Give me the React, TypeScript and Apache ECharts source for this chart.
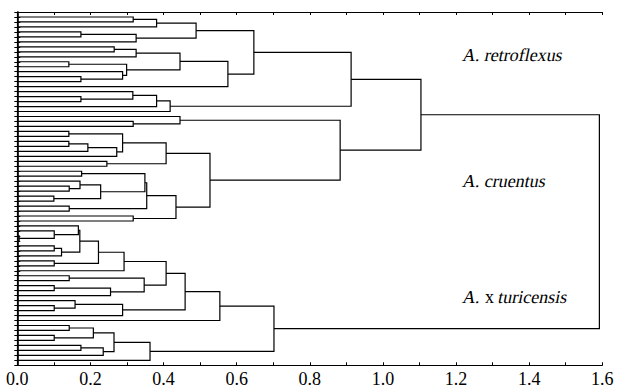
import React, { useEffect, useRef } from "react";
import * as echarts from "echarts";

// A node is a leaf index (its position from top) or [left, right, mergeDistance]
type Node = number | [Node, Node, number];

const leafCount = 70;

const retroflexusTree: Node = [
  [
    [[[0, 1, 0.317], 2, 0.381], [[3, 4, 0.174], 5, 0.325], 0.489],
    [
      [
        [[6, 7, 0.265], 8, 0.325],
        [[9, 10, 0.141], [11, [12, 13, 0.174], 0.288], 0.299],
        0.445,
      ],
      14,
      0.576,
    ],
    0.647,
  ],
  [[[15, [16, 17, 0.174], 0.316], 18, 0.381], 19, 0.418],
  0.913,
];

const cruentusTree: Node = [
  [20, [21, 22, 0.317], 0.445],
  [
    [
      [[23, 24, 0.141], [[[25, 26, 0.141], 27, 0.193], 28, 0.272], 0.288],
      [29, 30, 0.245],
      0.407,
    ],
    [
      [
        [[31, 32, 0.176], [[33, [34, 35, 0.142], 0.1715], [36, 37, 0.1], 0.228], 0.349],
        [38, 39, 0.142],
        0.354,
      ],
      [40, 41, 0.317],
      0.434,
    ],
    0.527,
  ],
  0.883,
];

const turicensisTree: Node = [
  [
    [
      [
        [
          [[42, [43, [44, 45, 0.005], 0.101], 0.167], [[46, 47, 0.101], 48, 0.121], 0.171],
          [49, 50, 0.101],
          0.222,
        ],
        51,
        0.292,
      ],
      [[52, 53, 0.142], [[54, 55, 0.101], 56, 0.255], 0.347],
      0.407,
    ],
    [[57, [58, 59, 0.101], 0.158], 60, 0.288],
    0.459,
  ],
  61,
  0.554,
];

const turicensisTail: Node = [
  [[[62, 63, 0.142], [64, 65, 0.101], 0.208], [[66, 67, 0.174], 68, 0.235], 0.2645],
  69,
  0.363,
];

const turicensisHeight = 0.702;
const retroCruentusHeight = 1.104;
const rootHeight = 1.592;

const xTickLabels = ["0.0", "0.2", "0.4", "0.6", "0.8", "1.0", "1.2", "1.4", "1.6"];
// species labels: segments of [text, italic]
const speciesLabels: [string, boolean][][] = [
  [["A. retroflexus", true]],
  [["A. cruentus", true]],
  [["A. ", true], ["x", false], [" turicensis", true]],
];

const FONT = "Liberation Serif";
const FONT_SIZE = 18;
const ITALIC_SKEW = -0.21;

function buildSegments(root: Node): number[][] {
  const segs: number[][] = [];
  const walk = (n: Node): { h: number; y: number } => {
    if (typeof n === "number") return { h: 0, y: n };
    const l = walk(n[0]);
    const r = walk(n[1]);
    segs.push([l.h, l.y, r.h, r.y, n[2]]);
    return { h: n[2], y: (l.y + r.y) / 2 };
  };
  walk(root);
  return segs;
}

export default function App() {
  const ref = useRef<HTMLDivElement>(null);

  useEffect(() => {
    if (!ref.current) return;
    const chart = echarts.init(ref.current, undefined, { renderer: "svg" });

    const fullTree: Node = [
      [retroflexusTree, cruentusTree, retroCruentusHeight],
      [turicensisTree, turicensisTail, turicensisHeight],
      rootHeight,
    ];
    const segments = buildSegments(fullTree);

    const ctx = document.createElement("canvas").getContext("2d");
    const measure = (s: string) => {
      if (!ctx) return s.length * 8;
      ctx.font = `${FONT_SIZE}px ${FONT}`;
      return ctx.measureText(s).width;
    };

    const labelFmt = (v: number) => {
      const k = Math.round(v * 10);
      return k % 2 === 0 ? xTickLabels[k / 2] ?? "" : "";
    };

    const xAxisBase = {
      type: "value" as const,
      min: 0,
      max: 1.6,
      interval: 0.1,
      splitLine: { show: false },
      axisLine: { show: true, onZero: false, lineStyle: { color: "#000", width: 1.2 } },
      axisTick: { show: true, inside: true, length: 3, lineStyle: { color: "#000", width: 1 } },
    };
    const yAxisBase = {
      type: "value" as const,
      inverse: true,
      min: -1,
      max: leafCount,
      interval: 1,
      splitLine: { show: false },
      axisLabel: { show: false },
    };

    const labelY = [55, 181, 297];

    const graphic = speciesLabels.map((segs, i) => {
      let cx = 0;
      const children = segs.map(([t, italic]) => {
        const el = {
          type: "text",
          x: cx,
          y: 0,
          skewX: italic ? ITALIC_SKEW : 0,
          style: {
            text: t,
            fontFamily: FONT,
            fontSize: FONT_SIZE,
            fill: "#000",
            verticalAlign: "middle",
            align: "left",
          },
        };
        cx += measure(t);
        return el;
      });
      return { type: "group", x: 463, y: labelY[i], children };
    });

    chart.setOption({
      animation: false,
      backgroundColor: "#fff",
      textStyle: { fontFamily: FONT },
      grid: { left: 17.3, right: 14.7, top: 12, bottom: 26.7, containLabel: false, outerBoundsMode: "none" },
      xAxis: [
        {
          ...xAxisBase,
          position: "bottom",
          axisLabel: {
            show: true,
            formatter: labelFmt,
            fontFamily: FONT,
            fontSize: FONT_SIZE,
            color: "#000",
            margin: 5,
          },
        },
        { ...xAxisBase, position: "top", axisLabel: { show: false } },
      ],
      yAxis: [
        {
          ...yAxisBase,
          position: "left",
          axisLine: { show: true, lineStyle: { color: "#000", width: 1.6 } },
          axisTick: { show: true, inside: true, length: 3, lineStyle: { color: "#000", width: 1 } },
        },
        {
          ...yAxisBase,
          position: "right",
          axisLine: { show: true, lineStyle: { color: "#000", width: 1.2 } },
          axisTick: { show: true, inside: true, length: 3, lineStyle: { color: "#000", width: 1 } },
        },
      ],
      series: [
        {
          type: "custom",
          coordinateSystem: "cartesian2d",
          xAxisIndex: 0,
          yAxisIndex: 0,
          clip: false,
          data: segments,
          encode: { x: [0, 2, 4], y: [1, 3] },
          renderItem: (_params: any, api: any) => {
            const p1 = api.coord([api.value(0), api.value(1)]);
            const p2 = api.coord([api.value(4), api.value(1)]);
            const p3 = api.coord([api.value(4), api.value(3)]);
            const p4 = api.coord([api.value(2), api.value(3)]);
            return {
              type: "polyline",
              shape: { points: [p1, p2, p3, p4] },
              style: { stroke: "#000", fill: null, lineWidth: 1.2 },
            };
          },
        },
      ],
      graphic,
    });

    return () => chart.dispose();
  }, []);

  return (
    <div
      ref={ref}
      style={{ position: "absolute", left: 0, top: 0, width: 617, height: 392 }}
    />
  );
}
